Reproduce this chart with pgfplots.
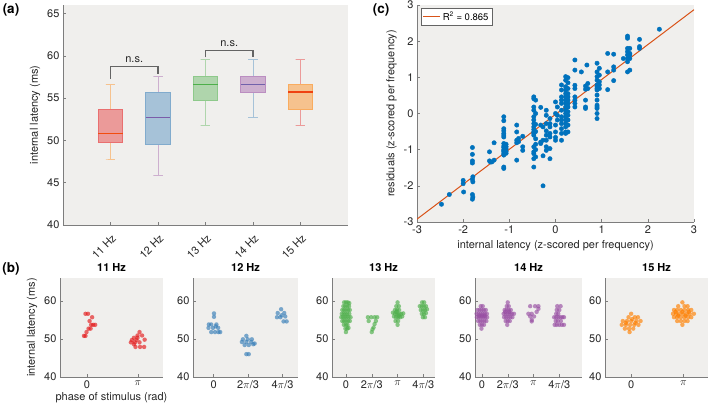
\documentclass[border=0pt]{standalone}
\usepackage{fontspec}
\setmainfont{TeX Gyre Heros}
\usepackage{pgfplots}
\pgfplotsset{compat=1.18}

\definecolor{bgc}{RGB}{240,239,237}
\definecolor{spine}{RGB}{125,125,125}
\definecolor{txt}{RGB}{38,38,38}
\definecolor{setR}{RGB}{228,26,28}
\definecolor{setB}{RGB}{55,126,184}
\definecolor{setG}{RGB}{77,175,74}
\definecolor{setP}{RGB}{152,78,163}
\definecolor{setO}{RGB}{255,127,0}
\definecolor{mblue}{RGB}{0,114,189}
\definecolor{mred}{RGB}{217,83,25}
\definecolor{brk}{RGB}{100,100,100}

\newcommand{\fs}{\fontsize{11}{13}\selectfont}

\pgfplotsset{
  base/.style={
    scale only axis,
    axis background/.style={fill=bgc},
    axis x line*=bottom, axis y line*=left,
    axis line style={draw=spine, line width=0.6pt},
    every tick/.style={draw=spine, line width=0.5pt},
    tick align=inside,
    major tick length=3pt,
    /pgf/number format/assume math mode=true,
    tick label style={text=txt, font=\fs},
    label style={text=txt, font=\fs},
    title style={text=black, font=\bfseries\fs, yshift=-3pt},
  },
  bsub/.style={base, height=99pt, ymin=40, ymax=66, ytick={40,50,60},
    xtick={1,2,3,4}, clip=false},
  dots/.style={only marks, color=#1, mark=*, mark size=2.2pt,
    mark options={fill=#1, draw opacity=0, fill opacity=0.65}},
  bx/.style={draw=#1!60!bgc, fill=#1!40!bgc, line width=0.8pt},
  wh/.style={draw=#1!40!bgc, line width=0.8pt},
  md/.style={draw=#1, line width=1.6pt},
}

\begin{document}
\begin{tikzpicture}

% (a) box plots
\begin{axis}[base, at={(63pt,182pt)}, anchor=south west, width=285pt, height=220pt,
  xmin=0, xmax=6, ymin=40, ymax=66, ytick={40,45,...,65},
  xtick={1,2,3,4,5}, xticklabels={11 Hz,12 Hz,13 Hz,14 Hz,15 Hz},
  every x tick label/.append style={yshift=-9pt, xshift=6pt, rotate=45, anchor=east},
  ylabel={internal latency (ms)}]
% 11 Hz
\addplot[wh=setO] coordinates {(1,53.7) (1,56.6) (0.9,56.6) (1.1,56.6)};
\addplot[wh=setO] coordinates {(1,49.8) (1,47.8) (0.9,47.8) (1.1,47.8)};
\addplot[bx=setR] coordinates {(0.74,49.8) (1.26,49.8) (1.26,53.7) (0.74,53.7)} -- cycle;
\addplot[md=setO!50!setR] coordinates {(0.74,50.8) (1.26,50.8)};
% 12 Hz
\addplot[wh=setP] coordinates {(2,55.7) (2,57.6) (1.9,57.6) (2.1,57.6)};
\addplot[wh=setP] coordinates {(2,49.5) (2,45.9) (1.9,45.9) (2.1,45.9)};
\addplot[bx=setB] coordinates {(1.74,49.5) (2.26,49.5) (2.26,55.7) (1.74,55.7)} -- cycle;
\addplot[md=setP!70!setB] coordinates {(1.74,52.7) (2.26,52.7)};
% 13 Hz
\addplot[wh=setG] coordinates {(3,57.6) (3,59.6) (2.9,59.6) (3.1,59.6)};
\addplot[wh=setG] coordinates {(3,54.7) (3,51.8) (2.9,51.8) (3.1,51.8)};
\addplot[bx=setG] coordinates {(2.74,54.7) (3.26,54.7) (3.26,57.6) (2.74,57.6)} -- cycle;
\addplot[md=setG] coordinates {(2.74,56.6) (3.26,56.6)};
% 14 Hz
\addplot[wh=setB] coordinates {(4,57.6) (4,59.6) (3.9,59.6) (4.1,59.6)};
\addplot[wh=setB] coordinates {(4,55.7) (4,52.7) (3.9,52.7) (4.1,52.7)};
\addplot[bx=setP] coordinates {(3.74,55.7) (4.26,55.7) (4.26,57.6) (3.74,57.6)} -- cycle;
\addplot[md=setP!60!setB] coordinates {(3.74,56.6) (4.26,56.6)};
% 15 Hz
\addplot[wh=setR] coordinates {(5,56.6) (5,59.6) (4.9,59.6) (5.1,59.6)};
\addplot[wh=setR] coordinates {(5,53.7) (5,51.8) (4.9,51.8) (5.1,51.8)};
\addplot[bx=setO] coordinates {(4.74,53.7) (5.26,53.7) (5.26,56.6) (4.74,56.6)} -- cycle;
\addplot[md=setR!60!setO] coordinates {(4.74,55.7) (5.26,55.7)};
% n.s. brackets
\addplot[brk, line width=1.1pt] coordinates {(1,57.3) (1,58.75) (2,58.75) (2,57.9)};
\addplot[brk, line width=1.1pt] coordinates {(3,59.8) (3,60.65) (4,60.65) (4,59.8)};
\node[font=\fs, text=txt, anchor=south] at (axis cs:1.5,58.75) {n.s.};
\node[font=\fs, text=txt, anchor=south] at (axis cs:3.5,60.65) {n.s.};
\end{axis}

% (c) scatter
\begin{axis}[base, at={(417pt,185pt)}, anchor=south west, width=277pt, height=217pt,
  xmin=-3, xmax=3, ymin=-3, ymax=3, xtick={-3,...,3}, ytick={-3,...,3},
  xlabel={internal latency (z-scored per frequency)},
  ylabel={residuals (z-scored per frequency)},
  legend style={at={(axis description cs:0.015,0.985)}, anchor=north west,
    draw=brk, fill=white, font=\fontsize{9.5}{11}\selectfont, inner sep=1.5pt},
  legend image code/.code={\draw[#1] (0pt,0pt) -- (17pt,0pt);},
  legend cell align=left]
\addplot[only marks, mark=*, mark size=2.2pt, color=mblue, forget plot] coordinates {
(-2.47,-2.51) (-2.30,-2.24)
(-2.0,-1.85) (-2.0,-1.94) (-1.99,-2.17)
(-1.80,-0.94) (-1.80,-1.13) (-1.80,-1.31) (-1.80,-1.37) (-1.79,-1.75) (-1.80,-1.82) (-1.79,-1.89) (-1.80,-2.24) (-1.79,-2.31) (-1.80,-2.37)
(-1.43,-1.06) (-1.43,-1.31) (-1.41,-1.34) (-1.38,-1.34) (-1.33,-0.81) (-1.33,-1.29)
(-1.12,-0.09) (-1.12,-0.2) (-1.12,-0.42) (-1.12,-0.48) (-1.12,-0.55) (-1.12,-0.6) (-1.12,-0.65) (-1.12,-0.83) (-1.12,-0.9) (-1.12,-0.94) (-1.12,-1.0) (-1.12,-1.03) (-1.12,-1.06) (-1.12,-1.11) (-1.12,-1.15) (-1.12,-1.48) (-1.12,-1.52)
(-1.07,-0.85) (-1.07,-0.92) (-1.07,-0.98) (-1.07,-1.05) (-1.07,-1.1)
(-0.84,-0.32) (-0.84,-0.51) (-0.84,-0.74) (-0.84,-0.81) (-0.84,-1.29) (-0.80,-0.69) (-0.80,-0.78)
(-0.71,-0.63) (-0.71,-0.92) (-0.71,-1.02)
(-0.47,0.46) (-0.47,0.41) (-0.47,0.18) (-0.47,0.09) (-0.47,-0.09) (-0.47,-0.18) (-0.47,-0.28) (-0.47,-0.37) (-0.47,-0.44) (-0.47,-0.51) (-0.47,-0.55) (-0.47,-0.6) (-0.47,-0.92) (-0.47,-1.06) (-0.47,-1.11) (-0.47,-1.25) (-0.47,-1.48)
(-0.43,0.37) (-0.43,0.0) (-0.43,-0.3) (-0.43,-0.5) (-0.43,-0.7) (-0.43,-0.85) (-0.43,-1.0) (-0.43,-1.2)
(-0.32,0.17) (-0.32,-0.32) (-0.32,-0.79) (-0.32,-0.83)
(-0.27,-0.37) (-0.27,-0.74) (-0.27,-1.17) (-0.27,-2.0)
(-0.20,0.09) (-0.20,-0.05) (-0.20,-0.28) (-0.20,-0.48) (-0.20,-0.6) (-0.20,-0.74) (-0.20,-0.92) (-0.20,-1.02)
(-0.12,-0.14) (-0.12,-0.28) (-0.12,-0.37) (-0.12,-0.55) (-0.12,-0.65) (-0.12,-0.97) (-0.12,-1.25)
(0.0,0.32) (0.0,0.0) (0.0,-0.32) (0.0,-0.51) (0.0,-0.66) (0.0,-0.74)
(0.04,0.18) (0.04,-0.05) (0.04,-0.18)
(0.13,0.79) (0.13,0.65) (0.13,0.46) (0.13,0.37) (0.13,0.28) (0.13,0.09) (0.13,-0.09) (0.13,-0.18) (0.13,-0.28) (0.13,-0.42) (0.13,-0.55) (0.13,-0.74)
(0.22,1.02) (0.22,0.92) (0.22,0.74) (0.22,0.65) (0.22,0.55) (0.22,0.46) (0.22,0.37) (0.22,0.28) (0.22,0.18) (0.22,0.09) (0.22,0.0) (0.22,-0.09) (0.22,-0.18) (0.22,-0.28) (0.22,-0.37) (0.22,-0.51) (0.22,-0.55)
(0.27,0.99) (0.27,0.85) (0.27,0.69) (0.27,0.55) (0.27,0.46) (0.27,0.37) (0.27,0.28) (0.27,0.18) (0.27,0.05) (0.27,-0.05) (0.27,-0.18) (0.27,-0.32) (0.27,-0.51)
(0.42,1.48) (0.42,1.20) (0.42,0.78) (0.42,0.69) (0.42,0.46) (0.42,0.37) (0.42,0.28) (0.42,0.18)
(0.56,1.15) (0.65,0.76) (0.65,0.67) (0.65,0.37) (0.65,0.18) (0.65,0.14) (0.68,1.34) (0.70,0.83) (0.70,0.69)
(0.90,1.39) (0.90,1.15) (0.90,1.02) (0.90,0.92) (0.90,0.79) (0.90,0.74) (0.90,0.69) (0.90,0.65) (0.90,0.51) (0.90,0.37) (0.90,0.23) (0.90,0.18) (0.90,0.14) (0.90,0.0) (0.90,-0.14)
(0.95,1.25) (0.95,1.06) (0.95,0.88) (0.95,0.79) (0.95,0.69)
(1.13,1.66) (1.13,1.15) (1.13,0.66) (1.26,1.64) (1.26,1.29) (1.26,1.20) (1.26,0.91)
(1.47,1.52)
(1.56,2.14) (1.56,2.08) (1.56,1.80) (1.56,1.71) (1.56,1.62) (1.56,1.52) (1.56,1.43) (1.56,1.15)
(1.61,1.80) (1.61,1.66) (1.61,1.62) (1.61,1.52) (1.61,1.20)
(1.82,2.05) (1.82,1.85) (1.82,1.80)
(2.25,2.33)
};
\addplot[mred, line width=1pt] coordinates {(-3,-2.92) (3,2.87)};
\addlegendentry{R\textsuperscript{2} = 0.865}
\end{axis}

% (b) per frequency
\begin{axis}[bsub, at={(60pt,30pt)}, anchor=south west, width=103pt,
  xmin=0.47, xmax=2.49, xticklabels={0,$\pi$}, title={11 Hz},
  ylabel={internal latency (ms)}, xlabel={phase of stimulus (rad)},
  xlabel style={yshift=3pt}]
\addplot[dots=setR] coordinates {
(0.97,56.6) (1.02,56.6) (1.10,55.7) (1.05,54.7) (1.08,53.7) (1.12,53.7) (1.16,53.7)
(1.03,52.7) (1.07,52.7) (0.99,51.8) (0.94,50.8) (0.97,50.8)
(2.03,51.8) (1.99,50.9) (2.08,50.9) (1.92,50.3) (1.99,50.3) (1.88,49.7) (1.97,49.7)
(2.13,49.8) (1.86,49.1) (1.94,49.1) (2.03,49.1) (1.92,48.6) (1.95,47.9) (2.04,47.9) (2.12,47.9)
};
\end{axis}

\begin{axis}[bsub, at={(193pt,30pt)}, anchor=south west, width=105pt,
  xmin=0.4, xmax=3.45, xticklabels={0,2$\pi$/3,4$\pi$/3}, title={12 Hz}]
\addplot[dots=setB] coordinates {
(1.01,56.7) (1.01,55.8) (0.86,53.8) (0.93,53.8) (1.08,53.8) (0.85,52.9) (0.98,52.9)
(1.13,52.9) (1.06,53.3) (0.93,51.8) (1.04,51.8) (1.14,51.8) (1.19,51.8)
(1.95,50.8) (1.85,49.9) (1.99,49.9) (2.11,49.9) (1.82,49.2) (1.95,49.2) (2.09,49.2)
(2.19,48.8) (1.90,48.4) (2.02,48.4) (2.15,48.6) (1.95,46.0) (2.02,46.0)
(2.96,57.8) (2.86,56.8) (3.05,56.8) (2.84,55.7) (2.94,55.7) (3.08,55.9) (3.03,54.6)
(3.12,54.6) (2.97,56.2)
};
\end{axis}

\begin{axis}[bsub, at={(332pt,30pt)}, anchor=south west, width=103pt,
  xmin=0.46, xmax=4.45, xticklabels={0,2$\pi$/3,$\pi$,4$\pi$/3}, title={13 Hz}]
\addplot[dots=setG] coordinates {
(0.93,59.6) (1.0,59.6) (1.07,59.6) (1.13,59.4)
(0.90,58.6) (0.97,58.6) (1.05,58.6) (1.12,58.6)
(0.86,57.6) (0.93,57.6) (1.0,57.6) (1.08,57.6) (1.15,57.6)
(0.84,56.6) (0.91,56.6) (0.98,56.6) (1.05,56.6) (1.13,56.6)
(0.82,55.7) (0.89,55.7) (0.96,55.7) (1.03,55.7) (1.10,55.7) (1.18,55.7)
(0.86,54.7) (0.93,54.7) (1.0,54.7) (1.08,54.7) (1.15,54.7)
(0.92,53.7) (1.0,53.7) (1.06,53.7) (0.98,52.7) (1.05,52.7) (1.1,52.9) (1.0,51.8)
(1.85,55.7) (1.98,55.7) (2.11,55.7) (2.21,55.7) (1.88,54.7) (2.16,54.7)
(2.11,53.9) (2.07,53.0) (2.03,52.5) (2.0,51.8)
(3.0,59.6) (2.95,58.6) (3.05,58.6) (2.90,57.6) (2.98,57.6) (3.06,57.6)
(2.82,56.9) (2.90,56.6) (2.98,56.6) (3.06,56.6) (3.14,56.6) (3.22,56.7)
(2.86,55.9) (2.94,55.7) (3.02,55.7) (3.10,55.7) (3.18,55.9)
(2.92,54.7) (3.02,54.7) (3.0,53.7) (2.96,57.1) (3.04,56.1)
(3.95,59.6) (4.03,59.6) (3.86,58.6) (3.94,58.6) (4.02,58.6) (4.10,58.6)
(3.90,57.6) (3.98,57.6) (4.06,57.6) (4.14,57.8) (3.94,56.6) (4.02,56.6) (4.10,56.8)
(3.98,55.7) (4.06,55.7)
};
\end{axis}

\begin{axis}[bsub, at={(475pt,30pt)}, anchor=south west, width=107pt,
  xmin=0.73, xmax=4.88, xticklabels={0,2$\pi$/3,$\pi$,4$\pi$/3}, title={14 Hz}]
\addplot[dots=setP] coordinates {
(0.95,58.6) (1.03,58.6)
(0.83,57.6) (0.91,57.6) (0.99,57.6) (1.07,57.6) (1.15,57.6)
(0.79,56.6) (0.87,56.6) (0.95,56.6) (1.03,56.6) (1.11,56.6) (1.19,56.6)
(0.9,56.1) (1.0,56.1) (1.1,56.1)
(0.80,55.7) (0.88,55.7) (0.96,55.7) (1.04,55.7) (1.12,55.7) (1.20,55.7)
(0.85,54.7) (0.93,54.7) (1.01,54.7) (1.09,54.7) (1.17,54.7)
(0.92,53.7) (1.00,53.7) (1.08,53.7) (0.98,52.7)
(2.0,59.6) (1.96,58.6) (2.04,58.6) (1.88,57.6) (1.96,57.6) (2.04,57.6) (2.12,57.6)
(1.9,57.1) (2.06,57.1)
(1.84,56.6) (1.92,56.6) (2.00,56.6) (2.08,56.6) (2.16,56.6) (2.24,56.6)
(1.86,55.7) (1.94,55.7) (2.02,55.7) (2.10,55.7) (2.18,55.7)
(1.92,54.7) (2.00,54.7) (2.08,54.7) (1.98,53.7)
(2.87,58.6) (3.06,58.6) (3.19,58.6) (3.19,57.9) (3.12,57.1) (2.80,56.6) (2.93,56.6)
(2.87,55.9) (3.02,55.9) (2.93,55.0) (2.93,54.6)
(3.92,58.6) (4.05,58.6) (3.90,57.6) (4.00,57.6) (3.88,56.6) (3.96,56.6)
(3.80,55.7) (3.88,55.7) (3.96,55.7) (4.04,55.7) (4.12,55.7) (4.18,55.7)
(3.86,54.7) (3.94,54.7) (4.06,54.7)
(3.82,53.7) (3.90,53.7) (4.00,53.7) (4.10,53.7) (4.18,53.7)
};
\end{axis}

\begin{axis}[bsub, at={(605pt,30pt)}, anchor=south west, width=103pt,
  xmin=0.5, xmax=2.47, xticklabels={0,$\pi$}, title={15 Hz}]
\addplot[dots=setO] coordinates {
(1.0,56.6) (0.95,55.7) (1.07,55.7) (1.13,55.7) (1.02,55.2)
(0.84,54.7) (0.92,54.7) (1.00,54.7) (1.10,54.7) (1.18,54.7) (0.9,54.2) (1.08,54.2)
(0.82,53.7) (0.90,53.7) (0.98,53.7) (1.06,53.7) (1.14,53.7)
(0.88,52.7) (0.96,52.7) (1.04,52.7) (0.97,51.8)
(1.98,59.6) (1.90,58.6) (2.02,58.6) (2.08,58.6)
(1.82,57.6) (1.88,57.6) (1.95,57.6) (2.02,57.6) (2.09,57.6) (2.15,57.6)
(1.85,57.1) (1.98,57.1) (2.10,57.1)
(1.80,56.6) (1.86,56.6) (1.92,56.6) (1.99,56.6) (2.06,56.6) (2.12,56.6) (2.2,56.6)
(1.90,56.1) (2.04,56.1)
(1.82,55.7) (1.88,55.7) (1.95,55.7) (2.02,55.7) (2.09,55.7) (2.15,55.7)
(1.88,54.7) (1.95,54.7) (2.02,54.7) (2.08,54.7) (1.98,53.7)
};
\end{axis}

% panel letters
\node[font=\bfseries\fontsize{13.5}{15}\selectfont] at (11pt,397pt) {(a)};
\node[font=\bfseries\fontsize{13.5}{15}\selectfont] at (381pt,397pt) {(c)};
\node[font=\bfseries\fontsize{13.5}{15}\selectfont] at (11pt,138pt) {(b)};

\pgfresetboundingbox
\useasboundingbox (0pt,0pt) rectangle (709pt,407pt);
\end{tikzpicture}
\end{document}
